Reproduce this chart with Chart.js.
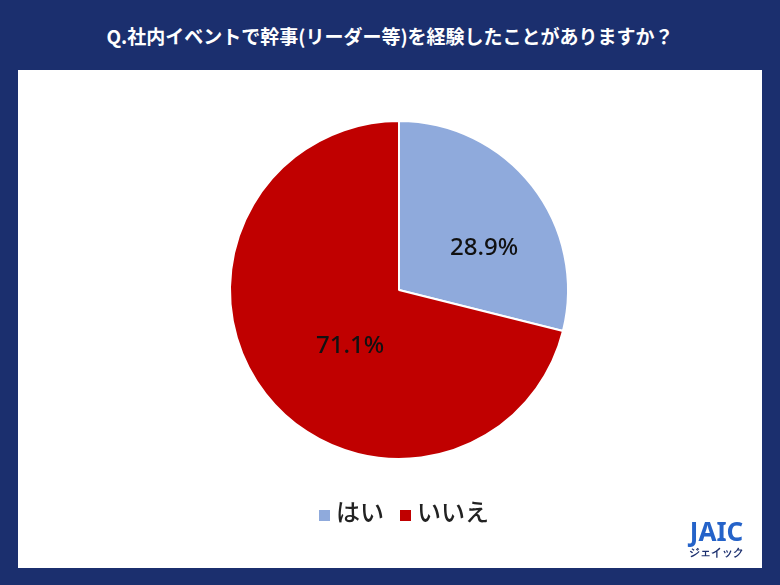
<!DOCTYPE html>
<html><head><meta charset="utf-8">
<script src="https://cdn.jsdelivr.net/npm/chart.js@4"></script>
<style>
body{margin:0;width:780px;height:585px;background:#1b2f6e;font-family:"Noto Sans CJK JP","Noto Sans",sans-serif;position:relative;overflow:hidden}
#title{position:absolute;top:22px;left:0;width:780px;text-align:center;color:#fff;font-weight:bold;font-size:19px}
#panel{position:absolute;left:18px;top:70px;width:744px;height:498px;background:#fff}
#legend{position:absolute;top:423px;left:14px;width:744px;text-align:center;font-size:24px;font-weight:500;color:#222}
#legend span.sw{display:inline-block;width:11px;height:11px;margin:0 6px 0 0}
#logo{position:absolute;right:18px;bottom:8px;text-align:center;color:#1b2f6e;font-family:"Noto Sans",sans-serif}
</style></head><body>
<div id="title">Q.社内イベントで幹事(リーダー等)を経験したことがありますか？</div>
<div id="panel">
<canvas id="mychart" width="744" height="498"></canvas>
<div id="legend"></div>
<div id="logo"><div style="font-size:26px;font-weight:bold;color:#2563c9;line-height:26px">JAIC</div><div style="font-size:11px;font-weight:bold">ジェイック</div></div>
</div>
<script>
const labels = ['はい', 'いいえ'];
const values = [28.9, 71.1];
const colors = ['#8faadc', '#c00000'];

document.getElementById('legend').innerHTML = labels.map((l, i) =>
    '<span style="margin:0 8px"><span class="sw" style="background:' + colors[i] + '"></span>' + l + '</span>').join('');

const labelPlugin = {
    id: 'pctLabels',
    afterDatasetsDraw(chart) {
        const c = chart.ctx;
        const factors = [0.56, 0.44];
        const shift = [12, -11];
        chart.getDatasetMeta(0).data.forEach((arc, i) => {
            const mid = (arc.startAngle + arc.endAngle) / 2 + shift[i] * Math.PI / 180;
            const r = arc.outerRadius * factors[i];
            c.save();
            c.font = '500 24px "Noto Sans", sans-serif';
            c.fillStyle = '#111';
            c.textAlign = 'center';
            c.textBaseline = 'middle';
            c.fillText(values[i].toFixed(1) + '%', arc.x + Math.cos(mid) * r, arc.y + Math.sin(mid) * r);
            c.restore();
        });
    }
};

const ctx = document.getElementById('mychart').getContext('2d');
new Chart(ctx, {
    type: 'pie',
    data: {
        labels: labels,
        datasets: [{ data: values, backgroundColor: colors, borderColor: '#fff', borderWidth: 2 }]
    },
    options: {
        responsive: false,
        animation: false,
        layout: { padding: { top: 50, bottom: 108, left: 18 } },
        plugins: { legend: { display: false }, tooltip: { enabled: false } }
    },
    plugins: [labelPlugin]
});
</script>
</body></html>
